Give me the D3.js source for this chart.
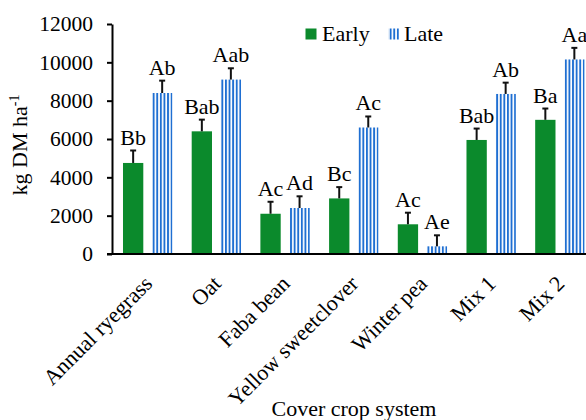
<!DOCTYPE html>
<html>
<head>
<meta charset="utf-8">
<script src="https://cdn.jsdelivr.net/npm/d3@7"></script>
<style>
  html, body { margin: 0; padding: 0; background: #fff; }
  svg { display: block; }
</style>
</head>
<body>
<svg id="chart" width="586" height="420"></svg>
<script>
const categories = ["Annual ryegrass", "Oat", "Faba bean", "Yellow sweetclover", "Winter pea", "Mix 1", "Mix 2"];
const seriesNames = ["Early", "Late"];
const earlyValues = [4750, 6400, 2100, 2900, 1550, 5950, 7000];
const lateValues = [8400, 9100, 2400, 6600, 400, 8350, 10150];
const earlyErrors = [650, 610, 625, 590, 605, 595, 590];
const lateErrors = [645, 590, 610, 575, 575, 590, 605];
const earlyLetters = ["Bb", "Bab", "Ac", "Bc", "Ac", "Bab", "Ba"];
const lateLetters = ["Ab", "Aab", "Ad", "Ac", "Ae", "Ab", "Aa"];
const yTicks = [0, 2000, 4000, 6000, 8000, 10000, 12000];

const GREEN = "#0b8a2c";
const BLUE = "#1f6fd2";
const FONT = "'Liberation Serif', 'Times New Roman', serif";
const FS = 22;

const svg = d3.select("#chart").style("font-family", FONT);

const defs = svg.append("defs");
const pat = defs.append("pattern")
  .attr("id", "stripes")
  .attr("patternUnits", "userSpaceOnUse")
  .attr("width", 3.6).attr("height", 10);
pat.append("rect").attr("width", 3.6).attr("height", 10).attr("fill", "#ffffff");
pat.append("rect").attr("x", 0.9).attr("width", 1.9).attr("height", 10).attr("fill", BLUE);

const y = d3.scaleLinear().domain([0, 12000]).range([254, 24]);
const x0 = d3.scaleBand().domain(categories).range([112, 595.5]).paddingInner(0.282).paddingOuter(0.16);
const x1 = d3.scaleBand().domain(seriesNames).range([0, x0.bandwidth()]).paddingInner(0.3).paddingOuter(0);

const rows = categories.map((c, i) => ({
  cat: c,
  bars: [
    { s: "Early", v: earlyValues[i], e: earlyErrors[i], l: earlyLetters[i] },
    { s: "Late", v: lateValues[i], e: lateErrors[i], l: lateLetters[i] }
  ]
}));

function styleText(sel, size) {
  return sel.style("font-family", FONT).style("font-size", size + "px").style("fill", "#000");
}

// Y axis
const yAxis = d3.axisLeft(y).tickValues(yTicks).tickFormat(d3.format("d"))
  .tickSize(5).tickSizeOuter(0).tickPadding(14);
const gy = svg.append("g").attr("transform", "translate(112,0)").call(yAxis);
gy.attr("font-family", null).attr("font-size", null);
gy.select(".domain").attr("stroke", "#000").attr("stroke-width", 2);
gy.selectAll(".tick line").attr("stroke", "#000").attr("stroke-width", 2);
styleText(gy.selectAll(".tick text"), 21.5);

// Bars
const groups = svg.append("g").selectAll("g").data(rows).join("g")
  .attr("transform", d => `translate(${x0(d.cat)},0)`);

groups.selectAll("rect").data(d => d.bars).join("rect")
  .attr("x", d => x1(d.s))
  .attr("y", d => y(d.v))
  .attr("width", x1.bandwidth())
  .attr("height", d => y(0) - y(d.v))
  .attr("fill", d => d.s === "Early" ? GREEN : "url(#stripes)");

// Error bars
groups.selectAll("line.err").data(d => d.bars).join("line")
  .attr("class", "err")
  .attr("x1", d => x1(d.s) + x1.bandwidth() / 2)
  .attr("x2", d => x1(d.s) + x1.bandwidth() / 2)
  .attr("y1", d => y(d.v))
  .attr("y2", d => y(d.v + d.e))
  .attr("stroke", "#111").attr("stroke-width", 2);
groups.selectAll("line.cap").data(d => d.bars).join("line")
  .attr("class", "cap")
  .attr("x1", d => x1(d.s) + x1.bandwidth() / 2 - 3)
  .attr("x2", d => x1(d.s) + x1.bandwidth() / 2 + 3)
  .attr("y1", d => y(d.v + d.e))
  .attr("y2", d => y(d.v + d.e))
  .attr("stroke", "#111").attr("stroke-width", 2);

// Letters
styleText(groups.selectAll("text.lab").data(d => d.bars).join("text")
  .attr("class", "lab")
  .attr("x", d => x1(d.s) + x1.bandwidth() / 2)
  .attr("y", d => y(d.v + d.e) - 6)
  .attr("text-anchor", "middle")
  .text(d => d.l), FS);

// X axis line
svg.append("line").attr("x1", 107).attr("x2", 586).attr("y1", y(0)).attr("y2", y(0))
  .attr("stroke", "#000").attr("stroke-width", 2);

// X category labels
styleText(svg.append("g").selectAll("text").data(categories).join("text")
  .attr("transform", d => `translate(${x0(d) + x0.bandwidth() / 2 + 6},285) rotate(-45)`)
  .attr("text-anchor", "end")
  .text(d => d), FS);

// Axis titles
styleText(svg.append("text")
  .attr("x", 354).attr("y", 416)
  .attr("text-anchor", "middle")
  .text("Cover crop system"), FS);

const yt = styleText(svg.append("text")
  .attr("transform", "translate(27,145) rotate(-90)")
  .attr("text-anchor", "middle"), FS);
yt.append("tspan").text("kg DM ha");
yt.append("tspan").attr("dy", -8).style("font-size", "14px").text("-1");

// Legend
const leg = svg.append("g");
leg.append("rect").attr("x", 305.5).attr("y", 28.5).attr("width", 11).attr("height", 11).attr("fill", GREEN);
styleText(leg.append("text").attr("x", 322).attr("y", 41).text(seriesNames[0]), FS);
leg.append("rect").attr("x", 388).attr("y", 28.5).attr("width", 11).attr("height", 11).attr("fill", "url(#stripes)");
styleText(leg.append("text").attr("x", 404).attr("y", 41).text(seriesNames[1]), FS);
</script>
</body>
</html>
